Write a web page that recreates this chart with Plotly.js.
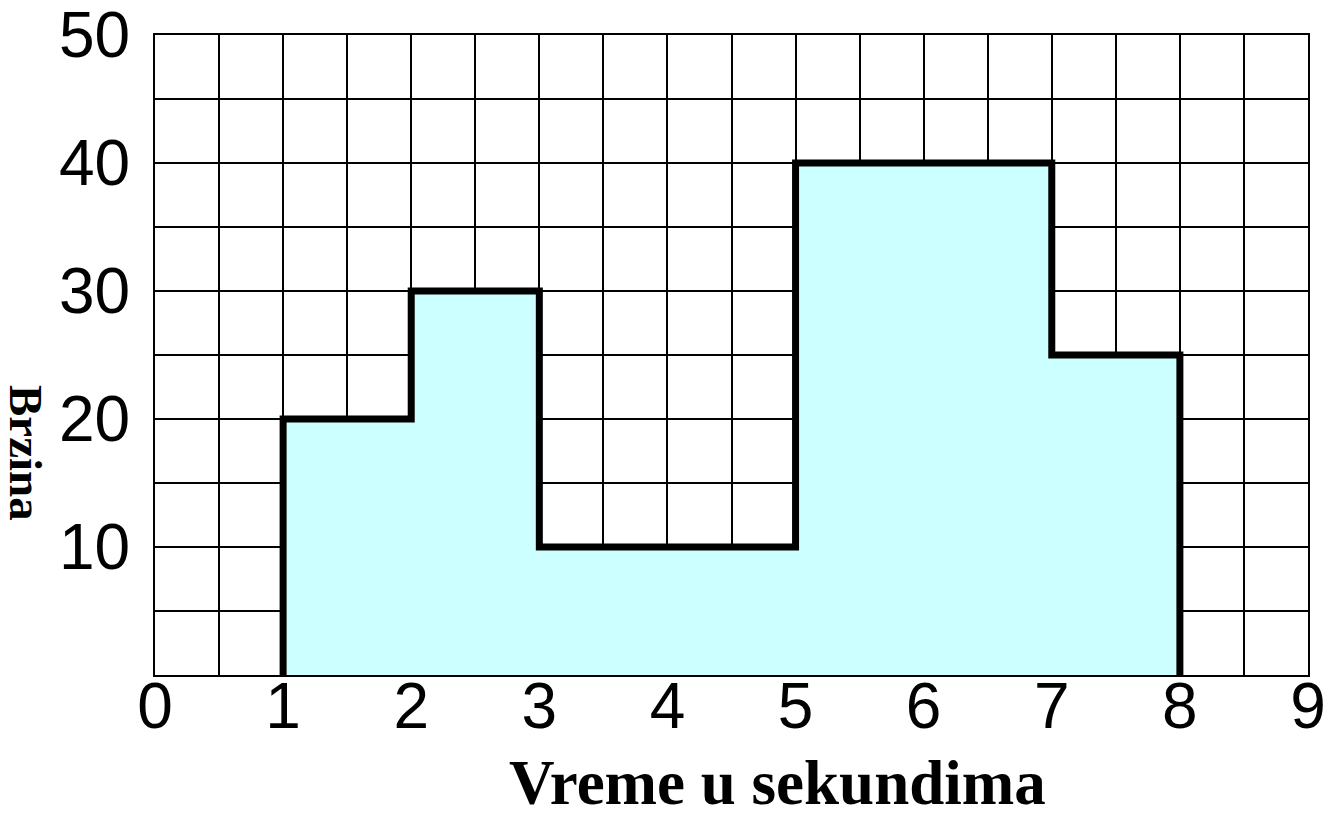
<!DOCTYPE html>
<html>
<head>
<meta charset="utf-8">
<script src="https://cdn.plot.ly/plotly-3.0.1.min.js"></script>
<style>html,body{margin:0;padding:0;background:#fff;}#chart{width:1332px;height:813px;}</style>
</head>
<body>
<div id="chart"></div>
<script>
// Data
var segStart = [1, 2, 3, 5, 7];
var segEnd   = [2, 3, 5, 7, 8];
var speed    = [20, 30, 10, 40, 25];
var xTickVals = [0, 1, 2, 3, 4, 5, 6, 7, 8, 9];
var xTickText = ['0', '1', '2', '3', '4', '5', '6', '7', '8', '9'];
var yTickVals = [10, 20, 30, 40, 50];
var yTickText = ['10', '20', '30', '40', '50'];
var xTitle = 'Vreme u sekundima';
var yTitle = 'Brzina';

// Build step outline
var xs = [segStart[0]], ys = [0];
for (var i = 0; i < speed.length; i++) {
  xs.push(segStart[i]); ys.push(speed[i]);
  xs.push(segEnd[i]); ys.push(speed[i]);
}
xs.push(segEnd[segEnd.length - 1]); ys.push(0);

var trace = {
  x: xs, y: ys, type: 'scatter', mode: 'lines',
  line: {color: '#000', width: 7, shape: 'linear'},
  fill: 'tozeroy', fillcolor: '#CCFFFF',
  hoverinfo: 'skip', showlegend: false
};

var tickFont = {family: 'Liberation Sans, Arial, sans-serif', size: 64, color: '#000'};
var layout = {
  width: 1332, height: 813,
  margin: {l: 155, r: 24, t: 35, b: 138},
  paper_bgcolor: '#fff', plot_bgcolor: '#fff',
  showlegend: false,
  xaxis: {
    range: [0, 9], tickmode: 'array', tickvals: xTickVals, ticktext: xTickText,
    showgrid: true, gridcolor: '#000', gridwidth: 2,
    minor: {dtick: 0.5, showgrid: true, gridcolor: '#000', gridwidth: 2},
    showline: true, linecolor: '#000', linewidth: 2, mirror: true,
    ticks: '', tickfont: tickFont, ticklabelstandoff: -26, ticklabeloverflow: 'allow',
    zeroline: false, fixedrange: true
  },
  yaxis: {
    range: [0, 50], tickmode: 'array', tickvals: yTickVals, ticktext: yTickText,
    showgrid: true, gridcolor: '#000', gridwidth: 2,
    minor: {dtick: 5, showgrid: true, gridcolor: '#000', gridwidth: 2},
    showline: true, linecolor: '#000', linewidth: 2, mirror: true,
    ticks: '', tickfont: tickFont, ticklabelstandoff: 10, ticklabeloverflow: 'allow',
    zeroline: false, fixedrange: true
  },
  annotations: [
    {text: '<b>' + xTitle + '</b>', xref: 'paper', yref: 'paper', x: 0.5395, y: -0.168,
     xanchor: 'center', yanchor: 'middle', showarrow: false, height: 60, valign: 'middle',
     font: {family: 'Liberation Serif, Times New Roman, serif', size: 63, color: '#000'}},
    {text: '<b>' + yTitle + '</b>', xref: 'paper', yref: 'paper', x: -0.1119, y: 0.347,
     xanchor: 'center', yanchor: 'middle', showarrow: false, textangle: 90,
     font: {family: 'Liberation Serif, Times New Roman, serif', size: 47, color: '#000'}}
  ]
};
Plotly.newPlot('chart', [trace], layout, {displayModeBar: false, staticPlot: true});
</script>
</body>
</html>
